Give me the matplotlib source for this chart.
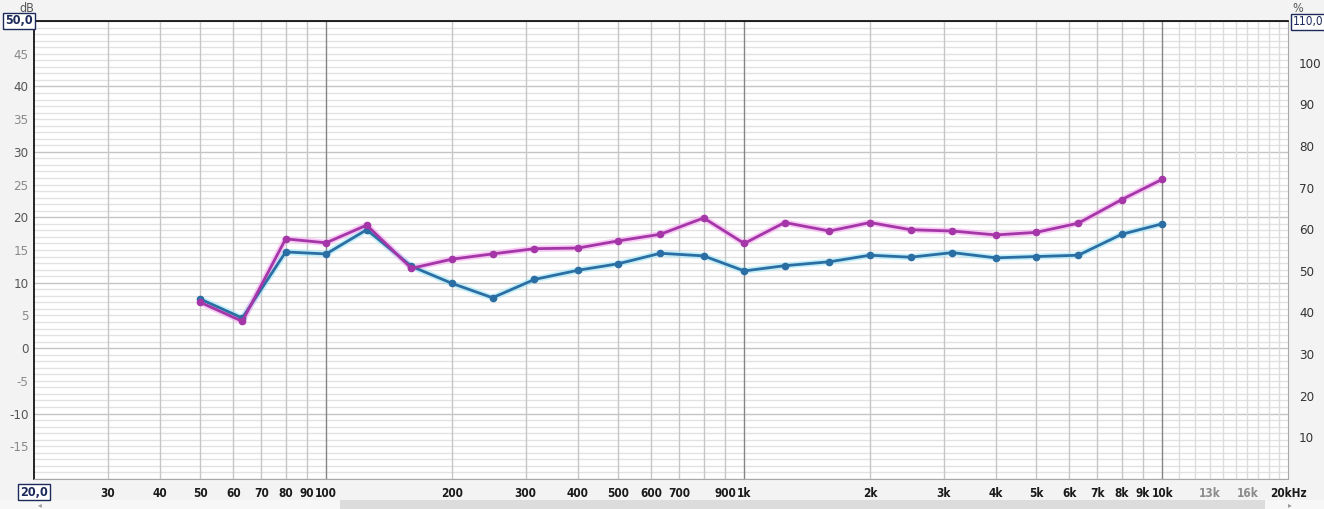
import numpy as np
import matplotlib.pyplot as plt

# frecuencias de tercio de octava (Hz)
freqs = [50, 63, 80, 100, 125, 160, 200, 250, 315, 400, 500, 630, 800,
         1000, 1250, 1600, 2000, 2500, 3150, 4000, 5000, 6300, 8000, 10000]

# serie azul (dB)
azul = [7.5, 4.6, 14.7, 14.4, 18.1, 12.5, 9.9, 7.7, 10.5, 11.9, 12.9, 14.5, 14.1,
        11.8, 12.6, 13.2, 14.2, 13.9, 14.6, 13.8, 14.0, 14.2, 17.4, 19.0]

# serie magenta (dB)
magenta = [7.0, 4.1, 16.7, 16.1, 18.8, 12.2, 13.6, 14.4, 15.2, 15.3, 16.4, 17.4, 19.9,
           16.0, 19.2, 17.9, 19.2, 18.1, 17.9, 17.3, 17.7, 19.1, 22.7, 25.8]

# etiquetas del eje x
xt_pos = [30, 40, 50, 60, 70, 80, 90, 100, 200, 300, 400, 500, 600, 700, 900, 1000,
          2000, 3000, 4000, 5000, 6000, 7000, 8000, 9000, 10000, 13000, 16000, 20000]
xt_lab = ['30', '40', '50', '60', '70', '80', '90', '100', '200', '300', '400', '500',
          '600', '700', '900', '1k', '2k', '3k', '4k', '5k', '6k', '7k', '8k', '9k',
          '10k', '13k', '16k', '20kHz']

yl_ticks = [-15, -10, -5, 0, 5, 10, 15, 20, 25, 30, 35, 40, 45]
yr_ticks = [10, 20, 30, 40, 50, 60, 70, 80, 90, 100]

plt.rcParams['font.family'] = ['DejaVu Sans']
plt.rcParams['font.stretch'] = 'condensed'

fig = plt.figure(figsize=(13.24, 5.09), dpi=100, facecolor='#f3f3f3')
ax = fig.add_axes([34/1324, 30/509, 1254/1324, 458/509])
ax.set_facecolor('white')
ax.set_xscale('log')
ax.set_xlim(20, 20000)
ax.set_ylim(-20, 50)

# rejilla horizontal
for v in range(-20, 51):
    if v % 10 == 0:
        c = '#c4c4c4'
    else:
        c = '#e2e2e2'
    ax.axhline(v, color=c, lw=1, zorder=0)

# rejilla vertical
for dec in [10, 100, 1000]:
    for m in range(2, 10):
        f = dec * m
        if f > 20:
            ax.axvline(f, color='#c6c6c6', lw=1, zorder=0)
for f in [100, 1000, 10000]:
    ax.axvline(f, color='#858585', lw=1, zorder=0)
for m in range(11, 20):
    ax.axvline(m * 1000, color='#dcdcdc', lw=1, zorder=0)

# curvas con halo
ax.plot(freqs, azul, color='#9fe6f7', lw=4.5, alpha=0.6, zorder=2, solid_capstyle='round')
ax.plot(freqs, magenta, color='#f6a8f0', lw=4.5, alpha=0.6, zorder=2, solid_capstyle='round')
ax.plot(freqs, azul, color='#2a6ea3', lw=2, marker='o', ms=4.5, zorder=3)
ax.plot(freqs, magenta, color='#a436a8', lw=2, marker='o', ms=4.5, zorder=3)

# ejes
ax.set_xticks(xt_pos)
ax.set_xticklabels(xt_lab)
ax.xaxis.set_minor_locator(plt.NullLocator())
ax.tick_params(axis='x', length=0, pad=6, labelsize=8.5, colors='#1a1a1a')
for t, l in zip(ax.get_xticklabels(), xt_lab):
    if l in ('13k', '16k'):
        t.set_color('#8c8c8c')
    t.set_fontweight('bold')

ax.set_yticks(yl_ticks)
ax.set_yticklabels([str(v) for v in yl_ticks])
ax.tick_params(axis='y', length=0, pad=4, labelsize=9.5)
for t, v in zip(ax.get_yticklabels(), yl_ticks):
    t.set_color('#555555' if v % 10 == 0 else '#8a8a8a')

for s in ['bottom', 'right']:
    ax.spines[s].set_color('#a8a8a8')
for s in ['top', 'left']:
    ax.spines[s].set_color('black')
    ax.spines[s].set_linewidth(1.2)

ax2 = ax.twinx()
ax2.set_ylim(0, 110)
ax2.set_yticks(yr_ticks)
ax2.tick_params(axis='y', length=0, pad=8, labelsize=9.5, colors='#333333')
for s in ax2.spines.values():
    s.set_visible(False)

# etiquetas con recuadro
caja = dict(boxstyle='square,pad=0.15', fc='white', ec='#1c2a5a', lw=1)
fig.text(19/1324, 1 - 21/509, '50,0', ha='center', va='center', fontsize=9,
         fontweight='bold', color='#1c2a5a', bbox=caja)
fig.text(34/1324, 1 - 492/509, '20,0', ha='center', va='center', fontsize=9,
         fontweight='bold', color='#1c2a5a', bbox=caja)
fig.text(1308/1324, 1 - 22/509, '110,0', ha='center', va='center', fontsize=8.5,
         color='#1c2a5a', bbox=caja)
fig.text(27/1324, 1 - 9/509, 'dB', ha='center', va='center', fontsize=9, color='#555555')
fig.text(1298/1324, 1 - 9/509, '%', ha='center', va='center', fontsize=9, color='#555555')

# barra de desplazamiento
sb = fig.add_axes([0, 0, 1, 9/509])
sb.set_xlim(0, 1324)
sb.set_ylim(0, 9)
sb.axis('off')
sb.add_patch(plt.Rectangle((0, 0), 1324, 9, fc='#f7f7f7', ec='none'))
sb.add_patch(plt.Rectangle((340, 0), 925, 9, fc='#dcdcdc', ec='none'))
sb.text(40, 4, '◂', ha='center', va='center', fontsize=6, color='#999999')
sb.text(1290, 4, '▸', ha='center', va='center', fontsize=6, color='#999999')

fig.savefig('out.png', dpi=100, facecolor=fig.get_facecolor())
